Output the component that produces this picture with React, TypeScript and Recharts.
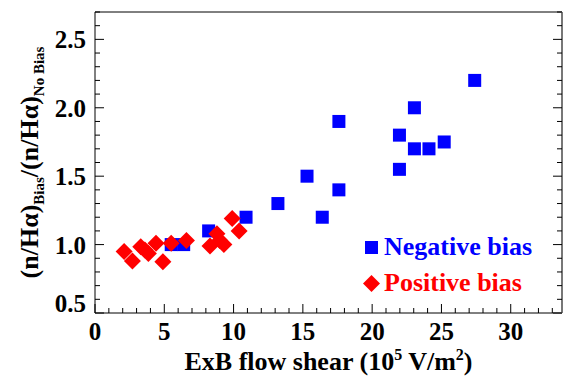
import React from 'react'
import { ScatterChart, Scatter, XAxis, YAxis, Legend } from 'recharts';

// negative bias points (blue squares)
const negX = [5.5, 6.4, 8.2, 10.9, 13.2, 15.3, 16.4, 17.6, 17.6, 21.97, 21.97, 23.05, 23.05, 24.1, 25.2, 27.4];
const negY = [1.0, 1.0, 1.1, 1.2, 1.3, 1.5, 1.2, 1.4, 1.9, 1.55, 1.8, 1.7, 2.0, 1.7, 1.75, 2.2];

// positive bias points (red diamonds)
const posX = [2.1, 2.7, 3.3, 3.6, 3.85, 4.4, 4.9, 5.5, 6.6, 8.3, 8.8, 9.0, 9.3, 9.9, 10.4];
const posY = [0.95, 0.88, 0.985, 0.96, 0.935, 1.01, 0.875, 1.01, 1.03, 0.99, 1.08, 1.03, 1.0, 1.19, 1.1];

const xTicks = [0, 1, 2, 3, 4, 5, 6, 7, 8, 9, 10, 11, 12, 13, 14, 15, 16, 17, 18, 19, 20, 21, 22, 23, 24, 25, 26, 27, 28, 29, 30, 31, 32, 33];
const yTicks = [0.5, 0.6, 0.7, 0.8, 0.9, 1.0, 1.1, 1.2, 1.3, 1.4, 1.5, 1.6, 1.7, 1.8, 1.9, 2.0, 2.1, 2.2, 2.3, 2.4, 2.5, 2.6, 2.7];

const negData = negX.map((x, i) => ({ x, y: negY[i] }));
const posData = posX.map((x, i) => ({ x, y: posY[i] }));

const FONT = 'Liberation Serif';

const isMajorX = (v: number) => v % 5 === 0;
const isMajorY = (v: number) => Math.abs(v * 2 - Math.round(v * 2)) < 1e-6;

const BottomTick = (props: any) => {
  const { x, y, payload } = props;
  const major = isMajorX(payload.value);
  return (
    <g>
      <line x1={x} x2={x} y1={y} y2={y - (major ? 9 : 5)} stroke="#000" />
      {major && (
        <text x={x} y={y + 27} textAnchor="middle" fontFamily={FONT} fontWeight="bold" fontSize={25} fill="#000">
          {payload.value}
        </text>
      )}
    </g>
  );
};

const TopTick = (props: any) => {
  const { x, y, payload } = props;
  const major = isMajorX(payload.value);
  return <line x1={x} x2={x} y1={y} y2={y + (major ? 9 : 5)} stroke="#000" />;
};

const LeftTick = (props: any) => {
  const { x, y, payload } = props;
  const major = isMajorY(payload.value);
  // the lowest label sits a little above the corner, as in the original
  const lift = payload.value === 0.5 ? -10 : 0;
  return (
    <g>
      <line x1={x} x2={x + (major ? 9 : 5)} y1={y} y2={y} stroke="#000" />
      {major && (
        <text x={x - 9} y={y + 9 + lift} textAnchor="end" fontFamily={FONT} fontWeight="bold" fontSize={25} fill="#000">
          {payload.value.toFixed(1)}
        </text>
      )}
    </g>
  );
};

const RightTick = (props: any) => {
  const { x, y, payload } = props;
  const major = isMajorY(payload.value);
  return <line x1={x} x2={x - (major ? 9 : 5)} y1={y} y2={y} stroke="#000" />;
};

const XTitle = (props: any) => {
  const { viewBox } = props;
  const cx = viewBox.x + viewBox.width / 2;
  return (
    <text x={cx} y={viewBox.y + 57} textAnchor="middle" fontFamily={FONT} fontWeight="bold" fontSize={26} fill="#000">
      ExB flow shear (10<tspan dy={-10} fontSize={16}>5</tspan><tspan dy={10}> V/m</tspan>
      <tspan dy={-10} fontSize={16}>2</tspan><tspan dy={10}>)</tspan>
    </text>
  );
};

const YTitle = (props: any) => {
  const { viewBox } = props;
  const cy = viewBox.y + viewBox.height / 2;
  return (
    <text transform={`translate(${viewBox.x + viewBox.width - 57},${cy}) rotate(-90)`} textAnchor="middle" fontFamily={FONT} fontWeight="bold" fontSize={26} fill="#000">
      (n/Hα)<tspan dy={6} fontSize={15}>Bias</tspan><tspan dy={-6}>/(n/Hα)</tspan>
      <tspan dy={6} fontSize={15}>No Bias</tspan>
    </text>
  );
};

const Square = (props: any) => {
  const { cx, cy } = props;
  return <rect x={cx - 6.5} y={cy - 6.5} width={13} height={13} fill="#0000ff" />;
};

const Diamond = (props: any) => {
  const { cx, cy } = props;
  return <polygon points={`${cx},${cy - 8.5} ${cx + 8.5},${cy} ${cx},${cy + 8.5} ${cx - 8.5},${cy}`} fill="#ff0000" />;
};

const LegendBox = () => (
  <div style={{ fontFamily: FONT, fontWeight: 'bold', fontSize: 26, lineHeight: '36px' }}>
    <div style={{ display: 'flex', alignItems: 'center', color: '#0000ff' }}>
      <svg width={17} height={17} style={{ marginRight: 4 }}>
        <rect x={2} y={2} width={13} height={13} fill="#0000ff" />
      </svg>
      Negative bias
    </div>
    <div style={{ display: 'flex', alignItems: 'center', color: '#ff0000' }}>
      <svg width={17} height={17} style={{ marginRight: 4 }}>
        <polygon points="8.5,0 17,8.5 8.5,17 0,8.5" fill="#ff0000" />
      </svg>
      Positive bias
    </div>
  </div>
);

export default function App() {
  return (
    <div style={{ position: 'absolute', left: 0, top: 0, background: '#fff', fontFamily: FONT }}>
      <ScatterChart width={566} height={381} margin={{ top: 11, right: 3, bottom: 67, left: 94 }}>
        <XAxis
          type="number" dataKey="x" domain={[0, 33.7]} ticks={xTicks} interval={0}
          height={1} tickSize={0} tickMargin={0} tick={BottomTick}
          axisLine={{ stroke: '#000' }} allowDataOverflow label={{ content: XTitle }}
        />
        <XAxis
          xAxisId="top" orientation="top" type="number" domain={[0, 33.7]} ticks={xTicks} interval={0}
          height={1} tickSize={0} tickMargin={0} tick={TopTick} axisLine={{ stroke: '#000' }} allowDataOverflow
        />
        <YAxis
          type="number" dataKey="y" domain={[0.5, 2.7]} ticks={yTicks} interval={0}
          width={1} tickSize={0} tickMargin={0} tick={LeftTick}
          axisLine={{ stroke: '#000' }} allowDataOverflow label={{ content: YTitle }}
        />
        <YAxis
          yAxisId="right" orientation="right" type="number" domain={[0.5, 2.7]} ticks={yTicks} interval={0}
          width={1} tickSize={0} tickMargin={0} tick={RightTick} axisLine={{ stroke: '#777', strokeWidth: 2 }} allowDataOverflow
        />
        <Legend
          layout="horizontal" verticalAlign="middle" align="center"
          content={() => <LegendBox />}
          wrapperStyle={{ position: 'absolute', left: 363, top: 229, width: 'auto', height: 'auto' }}
        />
        <Scatter name="Negative bias" data={negData} shape={Square} isAnimationActive={false} />
        <Scatter name="Positive bias" data={posData} shape={Diamond} isAnimationActive={false} />
      </ScatterChart>
    </div>
  );
}
